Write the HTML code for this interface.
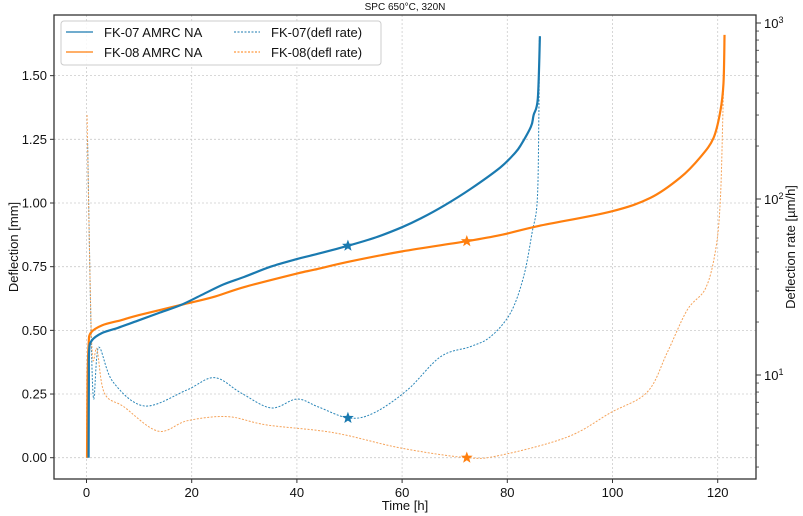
<!DOCTYPE html>
<html><head><meta charset="utf-8"><style>
body{margin:0;background:#fff;}
svg{display:block;font-family:"Liberation Sans","DejaVu Sans",sans-serif;}
</style></head><body>
<svg id="chart" width="803" height="516" xmlns="http://www.w3.org/2000/svg">
<rect x="0" y="0" width="803" height="516" fill="#fff"/>
<text x="405" y="10" font-size="10" text-anchor="middle" fill="#111">SPC 650°C, 320N</text>
<g id="grid"></g>
<g id="series"></g>
<rect x="54" y="15" width="702" height="464" fill="none" stroke="#333" stroke-width="1.3"/>
<g id="axes"></g>
<text x="405" y="510" font-size="13" text-anchor="middle" fill="#111">Time [h]</text>
<text transform="translate(18,247) rotate(-90)" font-size="13" text-anchor="middle" fill="#111">Deflection [mm]</text>
<text transform="translate(795,247) rotate(-90)" font-size="13" text-anchor="middle" fill="#111">Deflection rate [µm/h]</text>
<g>
<rect x="61" y="21" width="320" height="44" rx="3" fill="#fff" fill-opacity="0.85" stroke="#ccc"/>
<line x1="66" y1="32" x2="93" y2="32" stroke="#1a7ab0" stroke-width="1.3"/>
<text x="104" y="37" font-size="13" fill="#111">FK-07 AMRC NA</text>
<line x1="66" y1="52" x2="93" y2="52" stroke="#ff7f0e" stroke-width="1.3"/>
<text x="104" y="57" font-size="13" fill="#111">FK-08 AMRC NA</text>
<line x1="234" y1="32" x2="260" y2="32" stroke="#1a7ab0" stroke-width="1" stroke-dasharray="2,1.5"/>
<text x="271" y="37" font-size="13" fill="#111">FK-07(defl rate)</text>
<line x1="234" y1="52" x2="260" y2="52" stroke="#ff7f0e" stroke-width="1" stroke-dasharray="2,1.5"/>
<text x="271" y="57" font-size="13" fill="#111">FK-08(defl rate)</text>
</g>
</svg>
<script>
const xTicks=[0,20,40,60,80,100,120];
const yTicks=[0,0.25,0.5,0.75,1.0,1.25,1.5];
const yTickLabels=["0.00","0.25","0.50","0.75","1.00","1.25","1.50"];
const y2Decades=[1,2,3];
const fk07T=[0.4,0.45,0.5,1,3,6,10,14,18,22,26,30,35,40,43.3,49.7,55,60,63.6,68,73,78.7,81.4,82.5,84.5,85,85.8,86.2];
const fk07D=[0,0.3,0.42,0.46,0.49,0.51,0.54,0.57,0.6,0.64,0.68,0.71,0.75,0.78,0.797,0.832,0.865,0.905,0.94,0.99,1.055,1.14,1.195,1.225,1.3,1.345,1.41,1.655];
const fk08T=[0.1,0.2,0.4,0.8,3,6.6,10,18,24,30,40,43.3,50,60,72.3,78.7,86,99.6,107.2,112.9,116.7,119.2,120.5,121.1,121.3];
const fk08D=[0,0.3,0.44,0.49,0.52,0.54,0.56,0.6,0.63,0.67,0.723,0.738,0.77,0.81,0.85,0.874,0.91,0.966,1.02,1.1,1.18,1.255,1.36,1.47,1.66];
const fk07RT=[0.2,1.2,2.3,5,11,19,24.3,29.4,35.1,40,44,49.8,54.6,61,67.3,73,76.8,80.6,83.1,84.7,85.7,86.0,86.1];
const fk07RV=[216,8.2,14.4,9.17,6.67,8.2,9.66,7.9,6.5,7.3,6.6,5.7,6.08,8.22,12.7,14.5,16.5,22.5,36.2,64.1,98.7,300,822];
const fk08RT=[0.1,1.0,2.0,3.4,7.1,13.6,19.2,26.8,34.3,47,59.7,72.3,78.7,91.4,99.6,106.6,110.4,114.2,117.7,119.6,120.5,121.0,121.3];
const fk08RV=[300,15,14,7.9,6.6,4.8,5.5,5.8,5.2,4.7,3.85,3.39,3.5,4.44,6.1,8.0,13.4,23.4,31.1,51.3,98.7,320,855];
const fk07Star=[49.7,0.832,5.7];
const fk08Star=[72.3,0.85,3.39];

const NS="http://www.w3.org/2000/svg";
const X=t=>86.5+t*5.26;
const Y=d=>457.7-d*254.7;
const Y2=v=>199-176*Math.log10(v/100);
function mk(tag,attrs,parent){const e=document.createElementNS(NS,tag);for(const k in attrs)e.setAttribute(k,attrs[k]);parent.appendChild(e);return e;}
const grid=document.getElementById('grid'),axes=document.getElementById('axes'),ser=document.getElementById('series');
xTicks.forEach(t=>{
  const g=mk('line',{x1:X(t),x2:X(t),y1:15,y2:479,stroke:'#ccc','stroke-dasharray':'2,2','stroke-width':0.8},grid);
  
  
  mk('line',{x1:X(t),x2:X(t),y1:479,y2:483,stroke:'#333'},axes);
  const l=mk('text',{x:X(t),y:497,'font-size':13,'text-anchor':'middle',fill:'#111'},axes);l.textContent=t;
  
  
});
yTicks.forEach((d,i)=>{
  const g=mk('line',{x1:54,x2:756,y1:Y(d),y2:Y(d),stroke:'#ccc','stroke-dasharray':'2,2','stroke-width':0.8},grid);
  
  
  mk('line',{x1:50,x2:54,y1:Y(d),y2:Y(d),stroke:'#333'},axes);
  const l=mk('text',{x:47,y:Y(d)+4.5,'font-size':13,'text-anchor':'end',fill:'#111'},axes);l.textContent=yTickLabels[i];
  
  
});
y2Decades.forEach(p=>{
  const y=Y2(Math.pow(10,p));
  mk('line',{x1:756,x2:761,y1:y,y2:y,stroke:'#333'},axes);
  const l=mk('text',{x:764,y:y+5,'font-size':13,fill:'#111'},axes);
  l.innerHTML='10<tspan dy="-5" font-size="9">'+p+'</tspan>';
  
  
});
for(let p=0;p<3;p++)for(let m=2;m<10;m++){const y=Y2(m*Math.pow(10,p));if(y>15&&y<479)mk('line',{x1:756,x2:759,y1:y,y2:y,stroke:'#333','stroke-width':0.8},axes);}
function poly(ts,vs,fy){return ts.map((t,i)=>[X(t),fy(vs[i])]);}
function cr(p){let d='M'+p[0][0]+','+p[0][1];for(let i=0;i<p.length-1;i++){const a=p[Math.max(i-1,0)],b=p[i],c=p[i+1],e=p[Math.min(i+2,p.length-1)];
 d+=' C'+(b[0]+(c[0]-a[0])/6)+','+(b[1]+(c[1]-a[1])/6)+' '+(c[0]-(e[0]-b[0])/6)+','+(c[1]-(e[1]-b[1])/6)+' '+c[0]+','+c[1];}return d;}
function line(ts,vs,fy,col,w,dash,name){
  const p=mk('path',{d:cr(poly(ts,vs,fy)),fill:'none',stroke:col,'stroke-width':w},ser);
  if(dash)p.setAttribute('stroke-dasharray',dash);
  
  
}
line(fk07RT,fk07RV,Y2,'#2a86b8',1,'2,1.5','fk07-rate-line');
line(fk08RT,fk08RV,Y2,'#f5a35a',1,'2,1.5','fk08-rate-line');
line(fk08T,fk08D,Y,'#ff7f0e',2.2,null,'fk08-deflection-line');
line(fk07T,fk07D,Y,'#1a7ab0',2.2,null,'fk07-deflection-line');
function star(x,y,col,name){let d='';for(let i=0;i<10;i++){const r=i%2?2.6:6.2,a=-Math.PI/2+i*Math.PI/5;d+=(i?'L':'M')+(x+r*Math.cos(a))+','+(y+r*Math.sin(a));}
  const s=mk('path',{d:d+'Z',fill:col},ser);
  
  }
star(X(fk07Star[0]),Y(fk07Star[1]),'#1a7ab0','fk07-deflection-star');
star(X(fk07Star[0]),Y2(fk07Star[2]),'#1a7ab0','fk07-rate-star');
star(X(fk08Star[0]),Y(fk08Star[1]),'#ff7f0e','fk08-deflection-star');
star(X(fk08Star[0]),Y2(fk08Star[2]),'#ff7f0e','fk08-rate-star');
</script>
</body></html>
